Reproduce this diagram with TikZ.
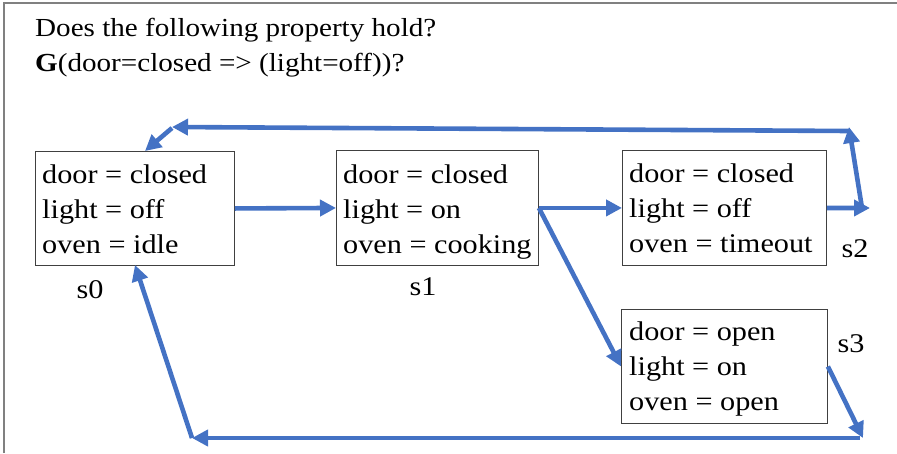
\documentclass[tikz,border=0pt]{standalone}
\usepackage{fontspec}
\setmainfont[FakeStretch=1.12]{Liberation Serif}
\usetikzlibrary{arrows.meta}
\definecolor{arrowblue}{HTML}{4472C4}
\definecolor{framegray}{HTML}{808080}
\definecolor{boxgray}{HTML}{404040}
\tikzset{
  statebox/.style={draw=boxgray, line width=0.9pt, inner sep=0pt, anchor=north west},
  txt/.style={anchor=base west, align=left, inner sep=0pt, font=\fontsize{27}{35}\selectfont},
  titletxt/.style={anchor=base west, align=left, inner sep=0pt, font=\fontsize{26}{35}\selectfont},
  lbl/.style={anchor=base, inner sep=0pt, font=\fontsize{27}{35}\selectfont},
  flow/.style={draw=arrowblue, line width=4.6pt, -{Triangle[length=16pt,width=16pt]}}
}
\begin{document}
\begin{tikzpicture}[x=1pt,y=-1pt]
\useasboundingbox (0,0) rectangle (897,453);
\draw[framegray, line width=2pt] (4,453) -- (4,2.5) -- (897,2.5);

% base anchor of a multi-line node is the baseline of its last line
\node[titletxt] (title) at (35,71) {Does the following property hold?\\\textbf{G}(door=closed => (light=off))?};

\node[statebox, minimum width=199, minimum height=114] (s0) at (35,151) {};
\node[statebox, minimum width=202, minimum height=115] (s1) at (336,150) {};
\node[statebox, minimum width=204, minimum height=115] (s2) at (622,150) {};
\node[statebox, minimum width=206, minimum height=114] (s3) at (621,309) {};

\node[txt] (t0) at ([shift={(7,102)}]s0.north west) {door = closed\\light = off\\oven = idle};
\node[txt] (t1) at ([shift={(7,103)}]s1.north west) {door = closed\\light = on\\oven = cooking};
\node[txt] (t2) at ([shift={(7,102)}]s2.north west) {door = closed\\light = off\\oven = timeout};
\node[txt] (t3) at ([shift={(8,101)}]s3.north west) {door = open\\light = on\\oven = open};

\node[lbl] (l0) at (90,298) {s0};
\node[lbl] (l1) at (423,295) {s1};
\node[lbl] (l2) at (855,257) {s2};
\node[lbl] (l3) at (851,352) {s3};

\coordinate (c1) at (870,208);
\coordinate (c2) at (862,208);
\coordinate (c3) at (849,127);
\coordinate (c4) at (849,131);
\coordinate (c5) at (172,127);
\coordinate (c6) at (172,128);
\coordinate (s0in) at (145,151);
\coordinate (c7) at (863,438);
\coordinate (c8) at (860,438);
\coordinate (c9) at (192,438);
\coordinate (c10) at (192,438);
\coordinate (s0b) at (135,265);

\draw[flow] (s0.east) -- (s1.west);
\draw[flow] (s1.east) -- (s2.west);
\draw[flow] (s1.east) -- (s3.west);
\draw[flow] (s2.east) -- (c1);
\draw[flow] (c2) -- (c3);
\draw[flow] (c4) -- (c5);
\draw[flow] (c6) -- (s0in);
\draw[flow] (s3.east) -- (c7);
\draw[flow] (c8) -- (c9);
\draw[flow] (c10) -- (s0b);
\end{tikzpicture}
\end{document}
